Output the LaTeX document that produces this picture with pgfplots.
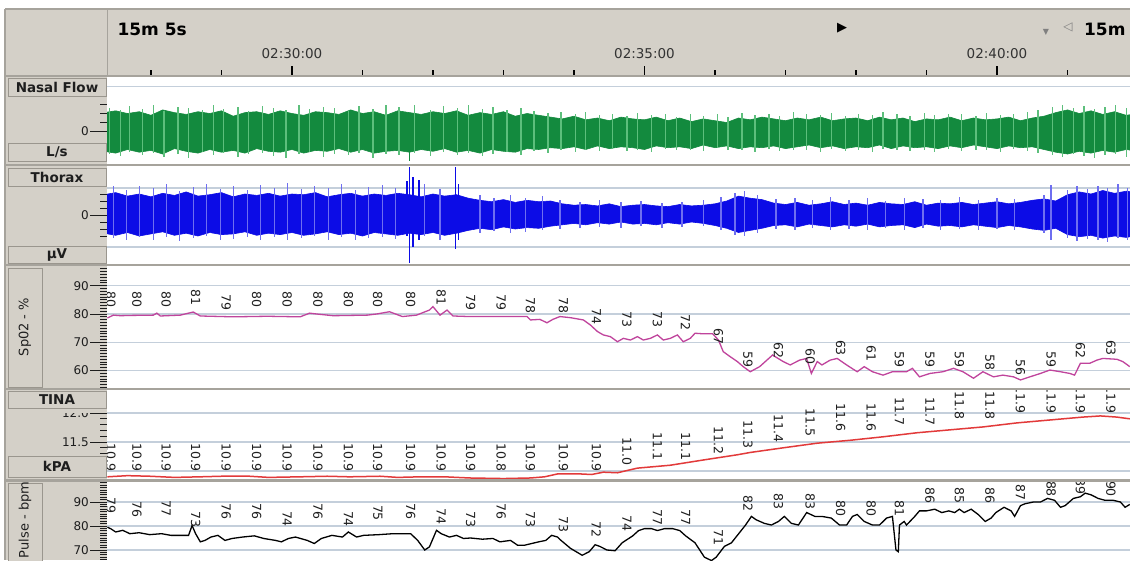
\documentclass[border=0pt]{standalone}
\usepackage{pgfplots}
\pgfplotsset{compat=1.18}
\usepackage{pgfplotstable}
\usepackage{fontspec}
\setmainfont{DejaVu Sans}

\definecolor{winbg}{HTML}{D4D0C8}
\definecolor{sepc}{HTML}{A6A39C}
\definecolor{gridc}{HTML}{C4CFDB}
\definecolor{fdark}{HTML}{138A3E}
\definecolor{flight}{HTML}{5DBF7C}
\definecolor{tdark}{HTML}{0C0CE6}
\definecolor{tlight}{HTML}{6E6EF0}
\definecolor{spoc}{HTML}{C0449C}
\definecolor{tinac}{HTML}{E23A3A}
\definecolor{boxline}{HTML}{9A968E}
\definecolor{txt}{HTML}{1E1E1E}

\newcommand{\labfont}{\fontsize{13.5}{14}\selectfont\bfseries}
\newcommand{\sidefont}{\fontsize{13}{14}\selectfont}
\newcommand{\tickfont}{\fontsize{12}{12}\selectfont}
\newcommand{\valfont}{\fontsize{12.5}{12.5}\selectfont}
\newcommand{\timefont}{\fontsize{13.5}{13.5}\selectfont}
\newcommand{\bigfont}{\fontsize{17}{17}\selectfont\bfseries}

% Nasal flow envelope (t in s after 02:30:00)
\pgfplotstableread{
t up lo
-160 2.1 -2.2
-150 2.3 -2.4
-140 2.0 -2.0
-130 2.2 -2.3
-120 1.8 -2.1
-110 2.4 -2.5
-100 2.1 -1.9
-90 1.9 -2.2
-80 2.2 -2.4
-70 2.0 -2.0
-60 2.3 -2.3
-50 1.7 -2.1
-40 2.1 -2.4
-30 2.2 -1.9
-20 1.9 -2.2
-10 2.3 -2.3
0 2.0 -2.0
10 1.8 -2.4
20 2.2 -2.1
30 2.1 -2.2
40 1.9 -1.9
50 2.4 -2.3
60 2.0 -2.0
70 2.2 -2.4
80 1.8 -2.2
90 2.3 -2.1
100 2.1 -2.3
110 1.9 -2.0
120 2.2 -2.2
130 2.0 -1.9
140 2.3 -2.3
150 1.8 -2.1
160 2.1 -2.4
170 1.9 -2.0
180 2.2 -2.2
190 1.7 -2.3
200 2.0 -1.9
210 1.8 -2.0
220 1.6 -1.8
230 1.4 -1.9
240 1.7 -1.7
250 1.3 -2.0
260 1.5 -1.6
270 1.2 -1.9
280 1.6 -1.7
290 1.4 -1.8
300 1.3 -2.0
310 1.6 -1.6
320 1.2 -1.8
330 1.5 -1.7
340 1.1 -1.9
350 1.4 -1.5
360 1.2 -1.8
370 1.0 -1.6
380 1.5 -1.9
390 1.3 -1.7
400 1.6 -1.8
410 1.4 -1.6
420 1.2 -1.9
430 1.5 -1.7
440 1.3 -1.5
450 1.6 -1.8
460 1.2 -1.6
470 1.4 -1.9
480 1.5 -1.7
490 1.2 -1.8
500 1.6 -1.5
510 1.3 -1.9
520 1.5 -1.6
530 1.1 -1.8
540 1.4 -1.7
550 1.3 -1.9
560 1.6 -1.6
570 1.2 -1.8
580 1.5 -1.5
590 1.3 -1.7
600 1.4 -1.9
610 1.6 -1.6
620 1.2 -1.8
630 1.5 -1.7
640 1.7 -2.0
650 2.1 -2.3
660 2.4 -2.5
670 2.0 -2.2
680 2.3 -2.4
690 1.9 -2.1
700 2.2 -2.3
710 1.8 -2.0
720 2.0 -2.2
}\flowenv

\pgfplotstableread{
t up lo
-155 2.6 -2.5
-146 2.4 -2.7
-138 2.8 -2.3
-127 2.5 -2.6
-118 2.9 -2.4
-109 2.3 -2.8
-97 2.7 -2.5
-88 2.6 -2.9
-76 2.4 -2.3
-67 2.9 -2.6
-58 2.5 -2.4
-46 2.7 -2.8
-37 2.3 -2.5
-25 2.8 -2.4
-16 2.6 -2.7
-5 2.4 -2.9
6 2.9 -2.5
15 2.5 -2.3
27 2.7 -2.8
36 2.6 -2.5
48 2.3 -2.6
57 2.8 -2.4
69 2.5 -2.9
80 2.9 -2.5
91 2.7 -2.6
104 3.0 -2.4
118 2.4 -2.7
129 2.8 -2.3
141 2.6 -2.6
150 2.9 -2.4
162 2.5 -2.7
171 2.7 -2.5
183 2.4 -2.3
195 2.6 -2.6
206 2.3 -2.2
218 2.1 -2.4
229 2.2 -2.0
241 1.9 -2.3
250 2.2 -2.1
262 1.8 -2.2
273 2.0 -1.9
285 1.7 -2.2
294 2.1 -2.0
306 1.8 -2.3
318 1.9 -1.9
327 1.6 -2.1
339 2.0 -2.0
350 1.7 -2.2
362 1.9 -1.8
371 1.6 -2.1
383 2.1 -2.0
394 1.8 -2.3
406 2.0 -1.9
415 1.7 -2.2
427 2.2 -2.0
438 1.9 -2.1
450 1.8 -2.3
459 2.1 -1.9
471 1.7 -2.2
482 2.0 -2.0
494 1.8 -2.3
503 2.2 -1.9
515 1.9 -2.1
526 1.7 -2.2
538 2.1 -2.0
547 1.8 -2.3
559 2.0 -1.9
570 1.9 -2.2
582 1.7 -2.0
591 2.1 -2.1
603 1.8 -2.3
614 2.0 -1.9
626 2.2 -2.2
635 2.4 -2.4
647 2.7 -2.6
656 2.9 -2.8
665 2.6 -2.5
674 2.8 -2.7
683 2.5 -2.9
692 2.7 -2.6
701 2.9 -2.5
710 2.6 -2.8
}\flowspk

% Thorax envelope
\pgfplotstableread{
t up lo
-160 2.9 -2.6
-150 3.2 -2.9
-140 2.7 -2.5
-130 3.0 -3.0
-120 2.6 -2.7
-110 3.1 -2.4
-100 2.8 -2.9
-90 3.3 -2.6
-80 2.7 -3.0
-70 2.9 -2.5
-60 3.2 -2.8
-50 2.6 -2.7
-40 3.0 -2.4
-30 2.8 -2.9
-20 3.1 -2.6
-10 2.7 -2.8
0 3.0 -2.5
10 2.9 -2.9
20 3.2 -2.7
30 2.6 -2.4
40 2.9 -2.8
50 3.1 -2.6
60 2.7 -3.0
70 3.0 -2.5
80 2.8 -2.7
90 3.1 -2.9
100 2.9 -2.6
110 2.6 -2.8
120 3.0 -2.5
130 2.7 -2.9
140 2.9 -2.6
150 2.4 -2.2
160 2.1 -1.9
170 1.9 -2.1
180 2.2 -1.7
190 1.8 -2.0
200 2.1 -1.8
210 1.9 -1.9
220 2.0 -1.6
230 1.6 -1.4
240 1.4 -1.2
250 1.5 -1.4
260 1.3 -1.1
270 1.6 -1.3
280 1.2 -1.0
290 1.4 -1.3
300 1.5 -1.2
310 1.3 -1.4
320 1.2 -1.1
330 1.5 -1.3
340 1.3 -1.0
350 1.4 -1.2
360 1.6 -1.5
370 2.0 -1.9
380 2.7 -2.5
390 2.4 -2.2
400 2.2 -1.9
410 1.7 -1.5
420 1.5 -1.4
430 1.8 -1.7
440 1.4 -1.3
450 1.6 -1.5
460 1.9 -1.7
470 1.5 -1.4
480 1.7 -1.6
490 1.4 -1.3
500 1.8 -1.7
510 1.6 -1.5
520 1.5 -1.4
530 1.9 -1.8
540 1.4 -1.3
550 1.7 -1.6
560 1.6 -1.5
570 1.8 -1.7
580 1.5 -1.4
590 1.7 -1.6
600 1.9 -1.8
610 1.6 -1.5
620 1.8 -1.7
630 2.1 -2.0
640 2.3 -2.2
650 2.0 -1.9
660 2.9 -2.8
670 3.3 -3.1
680 3.0 -2.9
690 3.5 -3.3
700 3.1 -3.0
710 3.4 -3.2
720 3.2 -2.9
}\thorenv

\pgfplotstableread{
t up lo
-152 4.1 -3.3
-141 3.6 -3.6
-130 4.2 -3.1
-118 3.8 -3.5
-107 4.4 -3.2
-96 3.5 -3.7
-84 4.0 -3.3
-73 4.5 -3.0
-61 3.7 -3.6
-50 4.1 -3.4
-38 3.6 -3.1
-27 4.3 -3.5
-15 3.9 -3.2
-4 4.6 -3.6
8 3.7 -3.3
19 4.2 -3.0
31 3.8 -3.6
42 4.4 -3.2
54 3.6 -3.5
65 4.0 -3.3
77 4.3 -3.1
88 3.9 -3.4
113 4.5 -3.0
126 3.7 -3.5
160 2.8 -2.5
172 2.5 -2.3
186 2.9 -2.6
199 2.4 -2.4
213 2.7 -2.2
228 2.2 -2.0
245 1.9 -1.8
262 2.1 -1.7
280 1.8 -1.9
297 2.0 -1.6
315 1.7 -1.8
332 1.9 -1.7
350 2.2 -1.6
365 2.6 -2.2
377 3.2 -2.8
385 3.5 -3.0
396 2.9 -2.6
412 2.3 -2.0
428 2.5 -2.1
443 2.1 -1.9
458 2.6 -2.2
474 2.2 -2.0
490 2.4 -2.1
505 2.0 -1.9
521 2.5 -2.2
537 2.3 -1.9
552 2.1 -2.1
568 2.6 -2.0
584 2.2 -2.2
600 2.5 -2.0
615 2.3 -2.1
640 2.8 -2.6
646 4.3 -3.6
660 3.6 -3.3
668 4.1 -3.7
677 3.7 -3.4
686 4.2 -3.5
694 3.8 -3.8
703 4.4 -3.3
711 3.9 -3.6
}\thorspk

\pgfplotstableread{
t up lo
98 4.8 -3.0
100 6.8 -6.9
103 5.5 -4.5
108 5.0 -3.5
139 6.8 -4.8
142 4.5 -3.5
}\thorbig

% SpO2 (%)
\pgfplotstableread{
t v
-157 78.6
-152 79.6
-146 79.4
-137 79.5
-118 79.6
-115 80.3
-112 79.3
-95 79.6
-84 80.7
-78 79.3
-50 79.0
-21 79.2
7 79.0
15 80.3
21 80.0
35 79.4
64 79.6
72 80.0
83 80.8
94 79.1
106 79.6
117 81.4
120 82.6
126 79.6
132 81.4
137 79.3
151 79.1
180 79.1
200 79.1
203 77.9
211 78.1
217 76.9
222 78.1
228 79.1
237 78.7
248 77.9
254 76.1
260 73.8
265 72.6
271 72.0
277 70.2
282 71.4
288 70.8
294 72.0
299 70.8
305 71.4
311 72.6
316 70.8
322 71.4
328 72.6
333 70.2
339 71.4
343 73.2
350 73.0
358 73.0
363 70.8
367 66.7
373 64.9
379 63.2
384 61.4
390 59.6
398 61.4
409 65.5
418 63.2
424 62.0
432 63.7
438 64.3
442 59.0
447 63.2
451 62.0
458 63.7
464 64.3
472 62.0
481 59.6
487 61.4
494 59.6
503 58.4
511 59.6
523 59.6
528 60.8
534 57.8
543 59.0
554 59.6
563 60.8
571 59.6
580 57.3
588 59.6
597 57.8
605 58.4
614 57.8
620 56.7
628 57.8
637 59.0
645 60.2
654 59.6
662 59.0
666 58.4
671 62.6
679 62.6
685 63.7
690 64.3
702 64.0
707 63.2
713 61.4
}\spo

\pgfplotstableread{
t v
-154 80
-132 80
-107 80
-82 81
-56 79
-30 80
-4 80
22 80
48 80
73 80
101 80
127 81
152 79
178 79
203 78
231 78
259 74
285 73
311 73
335 72
363 67
388 59
414 62
441 60
467 63
493 61
517 59
543 59
568 59
594 58
620 56
646 59
671 62
697 63
}\spolab

% TINA (kPa)
\pgfplotstableread{
t v
-157 10.90
-140 10.92
-121 10.91
-100 10.89
-78 10.90
-60 10.91
-36 10.91
-20 10.89
7 10.90
30 10.91
49 10.90
75 10.91
90 10.89
109 10.90
130 10.90
151 10.88
180 10.87
203 10.88
215 10.90
226 10.95
245 10.95
255 10.94
265 10.98
277 10.97
294 11.05
322 11.10
350 11.19
379 11.28
390 11.32
418 11.40
447 11.48
475 11.53
503 11.59
532 11.66
560 11.71
588 11.76
617 11.83
645 11.88
673 11.93
688 11.95
702 11.93
713 11.90
}\tina

% label position p, label text v
\pgfplotstableread{
t p v
-154 10.9 10.9
-132 10.9 10.9
-107 10.9 10.9
-82 10.9 10.9
-56 10.9 10.9
-30 10.9 10.9
-4 10.9 10.9
22 10.9 10.9
48 10.9 10.9
73 10.9 10.9
101 10.9 10.9
127 10.9 10.9
152 10.9 10.9
203 10.9 10.9
231 10.9 10.9
259 10.9 10.9
285 11.0 11.0
311 11.1 11.1
335 11.1 11.1
363 11.2 11.2
388 11.3 11.3
414 11.4 11.4
441 11.5 11.5
467 11.6 11.6
493 11.6 11.6
517 11.7 11.7
543 11.7 11.7
568 11.8 11.8
594 11.8 11.8
620 11.9 11.9
646 11.9 11.9
671 11.9 11.9
697 11.9 11.9
}\tinalab

% Pulse (bpm)
\pgfplotstableread{
t v
-157 79.5
-154 78.8
-150 77.5
-144 78.2
-138 76.8
-130 77.2
-121 76.4
-111 76.8
-103 76.1
-88 76.1
-85 80.2
-82 76.8
-78 73.4
-74 74.0
-69 75.4
-63 76.1
-57 74.0
-51 74.8
-42 75.4
-32 75.9
-24 74.8
-14 74.0
-9 73.4
-3 74.8
3 75.4
13 74.0
19 72.7
25 74.8
34 76.1
43 75.4
48 77.5
55 75.4
61 76.1
74 76.4
86 76.8
101 76.8
107 74.0
113 70.0
117 71.3
123 78.2
127 76.8
134 75.4
140 76.1
146 74.8
152 75.0
162 74.5
171 74.8
177 73.4
186 74.0
192 72.0
198 72.0
204 72.7
210 73.4
216 74.0
221 76.1
226 75.4
228 74.4
237 70.7
247 67.8
253 69.3
258 72.2
262 71.5
268 70.0
275 69.7
281 73.0
290 75.9
295 78.1
300 78.9
306 78.9
311 78.1
317 78.9
324 78.9
330 78.1
335 75.9
343 73.0
351 67.0
357 65.6
361 67.0
368 71.5
374 73.0
380 76.7
386 80.4
391 84.0
395 82.6
402 81.1
408 80.4
414 81.9
419 84.0
425 81.1
431 80.4
438 85.6
445 84.0
451 84.0
459 83.3
466 80.4
472 80.4
477 84.0
481 84.8
487 81.9
494 80.4
500 80.4
506 83.3
511 84.0
514 70.0
516 69.3
517 80.4
521 81.9
523 80.4
530 84.0
534 86.3
540 86.3
547 87.0
553 85.6
559 86.3
564 85.6
568 87.0
572 85.6
578 87.0
584 84.8
590 81.9
595 83.3
599 85.6
606 87.8
612 86.3
615 84.0
620 88.5
624 89.3
631 90.0
637 90.0
643 91.5
649 90.7
654 87.8
658 88.5
665 91.5
671 92.2
675 93.7
680 93.0
686 91.5
692 90.7
699 90.7
705 90.0
709 87.8
713 89.0
}\pulse

\pgfplotstableread{
t p v
-154 82.0 79
-132 80.0 76
-107 80.4 77
-82 75.8 73
-56 79.4 76
-30 79.4 76
-4 76.2 74
22 79.4 76
48 76.2 74
73 78.7 75
101 79.4 76
127 77.1 74
152 75.8 73
178 79.4 76
203 75.8 73
231 73.8 73
259 71.7 72
285 74.2 74
311 76.7 77
335 76.7 77
363 68.3 71
388 82.5 82
414 83.3 83
441 83.3 83
467 80.4 80
493 80.4 80
517 80.4 81
543 85.8 86
568 85.8 85
594 85.8 86
620 87.1 87
646 88.7 88
671 89.6 89
697 88.7 90
}\pulselab

\pgfplotsset{
  panel/.style={
    anchor=south west, scale only axis, width=1023pt,
    xmin=-157.4, xmax=713.2,
    axis line style={draw=none},
    xtick=\empty,
    ytick pos=left,
    tick align=outside,
    major tick length=17pt, minor tick length=7pt,
    tick style={txt, line width=0.9pt},
    yticklabel style={font=\tickfont, text=txt, inner sep=1pt},
    /pgf/number format/assume math mode=true,
    major grid style={gridc, line width=1.3pt},
    clip marker paths=true,
  },
  vlab/.style={draw=none, mark=none, nodes near coords,
    nodes near coords style={font=\valfont, text=txt, inner sep=0pt, yshift=#1, rotate=-90, anchor=east}},
  intlab/.style={nodes near coords={\pgfmathprintnumber[fixed,precision=0]{\pgfplotspointmeta}}},
  spk/.style={ycomb, mark=none, draw=#1, line width=1.3pt},
  core/.style={fill=#1, draw=#1, line width=0.6pt, mark=none},
}

\newcommand{\lbox}[3]{%
  \draw[boxline, fill=winbg, line width=0.8pt] (8,#1) rectangle (106,#2);
  \node[font=\labfont, text=txt] at (57,{(#1+#2)/2}) {#3};}

\begin{document}
\begin{tikzpicture}[x=1pt,y=-1pt]
\fill[white] (0,0) rectangle (1130,560);
\fill[winbg] (5,9) rectangle (1130,76);
\fill[winbg] (5,76) rectangle (107,560);

% ---- header time axis
\begin{axis}[at={(107pt,-76pt)}, anchor=south west, scale only axis,
  width=1023pt, height=66pt,
  xmin=-157.4, xmax=713.2, ymin=0, ymax=1,
  axis line style={draw=none}, ytick=\empty,
  xtick={0,300,600}, xticklabels={02:30:00,02:35:00,02:40:00},
  minor xtick={-120,-60,60,120,180,240,360,420,480,540,660},
  xtick pos=bottom, tick align=inside,
  major tick length=10pt, minor tick length=6pt,
  tick style={black, line width=1.4pt},
  xticklabel style={font=\timefont, text=black!80, anchor=south, yshift=14pt}]
\addplot[draw=none] coordinates {(0,0.5)};
\end{axis}

% ---- Nasal flow
\begin{axis}[panel, at={(107pt,-164pt)}, height=88pt,
  ymin=-3.611, ymax=6.167, ytick={0}, minor ytick={1,2,3},
  extra y ticks={5}, extra y tick labels={},
  extra y tick style={grid=major, major tick length=0pt}]
\addplot[core=fdark] table[x=t, y=up]{\flowenv} \closedcycle;
\addplot[core=fdark] table[x=t, y=lo]{\flowenv} \closedcycle;
\addplot[spk=flight] table[x=t, y=up]{\flowspk};
\addplot[spk=flight] table[x=t, y=lo]{\flowspk};
\addplot[spk=fdark] table[x=t, y=lo]{
t lo
100 -3.3
};
\end{axis}

% ---- Thorax
\begin{axis}[panel, at={(107pt,-264pt)}, height=98pt,
  ymin=-7, ymax=7, ytick={0}, minor ytick={-3,-2,-1,1,2,3},
  extra y ticks={3.86,-4.57}, extra y tick labels={},
  extra y tick style={grid=major, major tick length=0pt}]
\addplot[core=tdark] table[x=t, y=up]{\thorenv} \closedcycle;
\addplot[core=tdark] table[x=t, y=lo]{\thorenv} \closedcycle;
\addplot[spk=tlight] table[x=t, y=up]{\thorspk};
\addplot[spk=tlight] table[x=t, y=lo]{\thorspk};
\addplot[spk=tdark] table[x=t, y=up]{\thorbig};
\addplot[spk=tdark] table[x=t, y=lo]{\thorbig};
\end{axis}

% ---- SpO2
\begin{axis}[panel, at={(107pt,-388pt)}, height=122pt,
  ymin=53.85, ymax=96.96, ytick={60,70,80,90}, minor ytick={54,...,96},
  ymajorgrids]
\addplot[spoc, line width=1.3pt] table[x=t, y=v]{\spo};
\addplot[vlab=6pt, intlab, point meta=y] table[x=t, y=v]{\spolab};
\end{axis}

% ---- TINA
\begin{axis}[panel, at={(107pt,-480pt)}, height=90pt,
  ymin=10.845, ymax=12.397, ytick={11.5,12.0},
  minor ytick={10.9,11.0,...,12.3},
  yticklabel={\pgfmathprintnumber[fixed,fixed zerofill,precision=1]{\tick}},
  extra y ticks={11.0}, extra y tick labels={},
  extra y tick style={major tick length=7pt},
  ymajorgrids]
\addplot[tinac, line width=1.5pt] table[x=t, y=v]{\tina};
\addplot[vlab=5pt, point meta=explicit symbolic] table[x=t, y=p, meta=v]{\tinalab};
\addplot[vlab=5pt, point meta=explicit symbolic] coordinates {(178,10.9) [10.8] (179,10.95) []};
\end{axis}

% ---- Pulse
\begin{axis}[panel, at={(107pt,-560pt)}, height=79pt,
  ymin=65.83, ymax=98.75, ytick={70,80,90}, minor ytick={66,...,98},
  ymajorgrids]
\addplot[black, line width=1.3pt] table[x=t, y=v]{\pulse};
\addplot[vlab=8pt, intlab, point meta=explicit] table[x=t, y=p, meta=v]{\pulselab};
\end{axis}

% ---- frame, separators
\draw[sepc, line width=1.2pt] (5,9) -- (1130,9);
\draw[sepc, line width=1.2pt] (5,9) -- (5,560);
\draw[sepc, line width=1pt] (107,9) -- (107,76);
\foreach \yy in {76,165,265,389,480.5}{\draw[sepc, line width=2.4pt] (5,\yy) -- (1130,\yy);}

% ---- header texts
\node[anchor=west, font=\bigfont, text=black] at (114,29) {15m 5s};
\node[font=\fontsize{13}{13}\selectfont, text=black] at (842,28) {▶};
\node[font=\fontsize{8}{8}\selectfont, text=gray] at (1046,32) {▼};
\node[font=\fontsize{12}{12}\selectfont, text=gray] at (1068,27) {◁};
\node[anchor=east, font=\bigfont, text=black] at (1129,29) {15m};

% ---- left column labels
\lbox{78}{96}{Nasal Flow}
\lbox{143}{161}{L/s}
\lbox{168}{186}{Thorax}
\lbox{246}{263}{µV}
\fill[winbg] (44,404) rectangle (100,412.5);
\lbox{391}{408}{TINA}
\lbox{456}{477}{kPA}
\draw[boxline, fill=winbg, line width=0.8pt] (8,268) rectangle (42,387);
\node[rotate=90, font=\sidefont, text=txt] at (25,327) {Sp02 - \%};
\draw[boxline, fill=winbg, line width=0.8pt] (8,483) rectangle (42,566);
\node[rotate=90, font=\sidefont, text=txt] at (25,520) {Pulse - bpm};

\pgfresetboundingbox
\path[use as bounding box] (0,0) rectangle (1130,560);
\end{tikzpicture}
\end{document}
